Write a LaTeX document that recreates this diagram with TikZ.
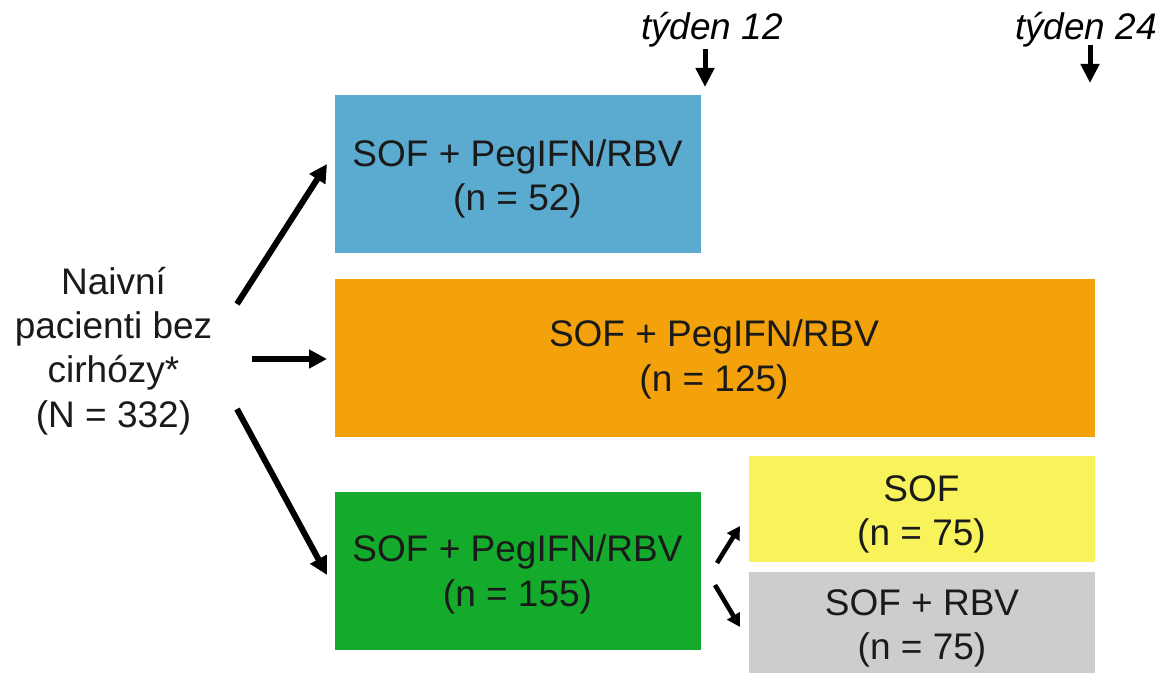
\documentclass[tikz,border=0pt]{standalone}
\usepackage{fontspec}
\setmainfont{Liberation Sans}
\usetikzlibrary{arrows.meta}
\definecolor{cblue}{HTML}{5BAACF}
\definecolor{corange}{HTML}{F4A20C}
\definecolor{cgreen}{HTML}{14AB2C}
\definecolor{cyellow}{HTML}{F8F35B}
\definecolor{cgray}{HTML}{CDCDCF}
\definecolor{ink}{HTML}{1A1A1A}
\tikzset{
  box/.style={rectangle, inner sep=0pt, draw=none},
  txt/.style={align=center, inner sep=0pt, text=ink, font=\fontsize{18.5}{22.2}\selectfont},
  weektxt/.style={inner sep=0pt, text=black, font=\fontsize{18.5}{22.2}\selectfont\itshape, anchor=base},
  bigarrow/.style={draw=black, line width=3pt, -{Triangle[length=9pt,width=9pt]}},
  smallarrow/.style={draw=black, line width=2.3pt, -{Triangle[length=6.5pt,width=7pt]}},
  weekarrow/.style={draw=black, line width=2.5pt, -{Triangle[length=9.5pt,width=9pt]}}
}
\begin{document}
\begin{tikzpicture}[x=0.5pt,y=-0.5pt]
\useasboundingbox (0,0) rectangle (1165,673);
\fill[white] (0,0) rectangle (1165,673);

% boxes
\node[box, fill=cblue,   minimum width=183pt, minimum height=79pt] (blue)   at (518,174) {};
\node[box, fill=corange, minimum width=380pt, minimum height=79pt] (orange) at (715,358) {};
\node[box, fill=cgreen,  minimum width=183pt, minimum height=79pt] (green)  at (518,571) {};
\node[box, fill=cyellow, minimum width=173pt, minimum height=53pt] (yellow) at (922,509) {};
\node[box, fill=cgray,   minimum width=173pt, minimum height=54pt] (gray)   at (922,626) {};

% texts
\node[txt] (src) at (113.5,351) {Naivní\\pacienti bez\\cirhózy*\\(N = 332)};
\node[txt] (blueT)   at (517.5,179) {SOF + PegIFN/RBV\\(n = 52)};
\node[txt] (orangeT) at (714,359.6) {SOF + PegIFN/RBV\\(n = 125)};
\node[txt] (greenT)  at (517.5,574.6) {SOF + PegIFN/RBV\\(n = 155)};
\node[txt] (yellowT) at (921.5,514.4) {SOF\\(n = 75)};
\node[txt] (grayT)   at (922,628.4) {SOF + RBV\\(n = 75)};

\node[weektxt] (w12) at (712,40) {týden 12};
\node[weektxt] (w24) at (1086,40) {týden 24};

% arrow end points
\coordinate (aUs) at (237,304);
\coordinate (aUe) at (327,164);
\coordinate (aMs) at (252,359);
\coordinate (aMe) at (327,359);
\coordinate (aDs) at (237,409);
\coordinate (aDe) at (327,575);
\coordinate (sUs) at (717,563);
\coordinate (sUe) at (740,526);
\coordinate (sDs) at (715,585);
\coordinate (sDe) at (740,627);
\coordinate (w12s) at (705,49);
\coordinate (w12e) at (705,87);
\coordinate (w24s) at (1090,45);
\coordinate (w24e) at (1090,83);

\draw[bigarrow] (aUs) -- (aUe);
\draw[bigarrow] (aMs) -- (aMe);
\draw[bigarrow] (aDs) -- (aDe);
\draw[smallarrow] (sUs) -- (sUe);
\draw[smallarrow] (sDs) -- (sDe);
\draw[weekarrow] (w12s) -- (w12e);
\draw[weekarrow] (w24s) -- (w24e);
\end{tikzpicture}
\end{document}
